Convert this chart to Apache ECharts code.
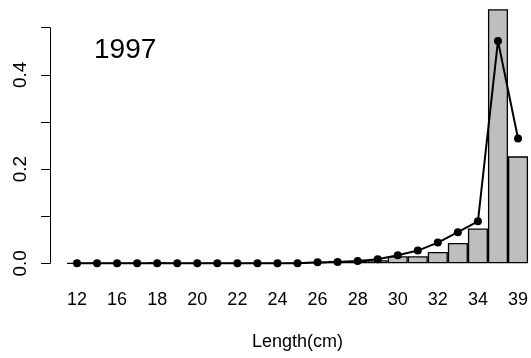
<!DOCTYPE html>
<html><head><meta charset="utf-8">
<script src="https://cdn.jsdelivr.net/npm/echarts@6/dist/echarts.min.js"></script>
<style>html,body{margin:0;padding:0;background:#fff}#c{width:531px;height:358px}</style>
</head><body><div id="c"></div>
<script>
var categories = ['12','14','16','17','18','19','20','21','22','23','24','25','26','27','28','29','30','31','32','33','34','35','39'];
var observed = [0,0,0,0,0.002,0,0,0,0,0,0,0,0.002,0.005,0.005,0.0065,0.015,0.015,0.024,0.043,0.074,0.539,0.227];
var predicted = [0,0,0,0,0,0,0,0,0,0,0,0,0.002,0.003,0.005,0.0085,0.017,0.027,0.044,0.066,0.089,0.472,0.265];
var yLabels = {'0.0':'0.0','0.2':'0.2','0.4':'0.4'};
var yearLabel = '1997';
var xTitle = 'Length(cm)';

var FONT = 'Liberation Sans';
var chart = echarts.init(document.getElementById('c'), null, {renderer:'canvas'});
chart.setOption({
  animation: false,
  backgroundColor: '#fff',
  title: {text: yearLabel, left: 89, top: 31, padding: 5, textStyle: {fontFamily: FONT, fontSize: 28, fontWeight: 'normal', color: '#000'}},
  grid: {left: 67, right: 1.5, top: 27.7, bottom: 94.7, containLabel: false},
  xAxis: {
    type: 'category', data: categories, boundaryGap: true,
    axisLine: {show: false}, axisTick: {show: false},
    axisLabel: {interval: 1, margin: 28, fontFamily: FONT, fontSize: 18, color: '#000'},
    name: xTitle, nameLocation: 'middle', nameGap: 70,
    nameTextStyle: {fontFamily: FONT, fontSize: 18, color: '#000'}
  },
  yAxis: {
    type: 'value', min: 0, max: 0.5, interval: 0.1, offset: 17,
    splitLine: {show: false},
    axisLine: {show: true, lineStyle: {color: '#000', width: 1}},
    axisTick: {show: true, length: 9, lineStyle: {color: '#000'}},
    axisLabel: {rotate: 90, margin: 20, fontFamily: FONT, fontSize: 19, color: '#000',
      formatter: function(v){ var k = v.toFixed(1); return yLabels[k] || ''; }}
  },
  series: [
    {type: 'bar', data: observed, barCategoryGap: '0%', clip: false,
     itemStyle: {color: '#bebebe', borderColor: '#000', borderWidth: 1.3}},
    {type: 'line', data: predicted, clip: false, symbol: 'circle', symbolSize: 8,
     lineStyle: {color: '#000', width: 2}, itemStyle: {color: '#000'}}
  ]
});
</script></body></html>
